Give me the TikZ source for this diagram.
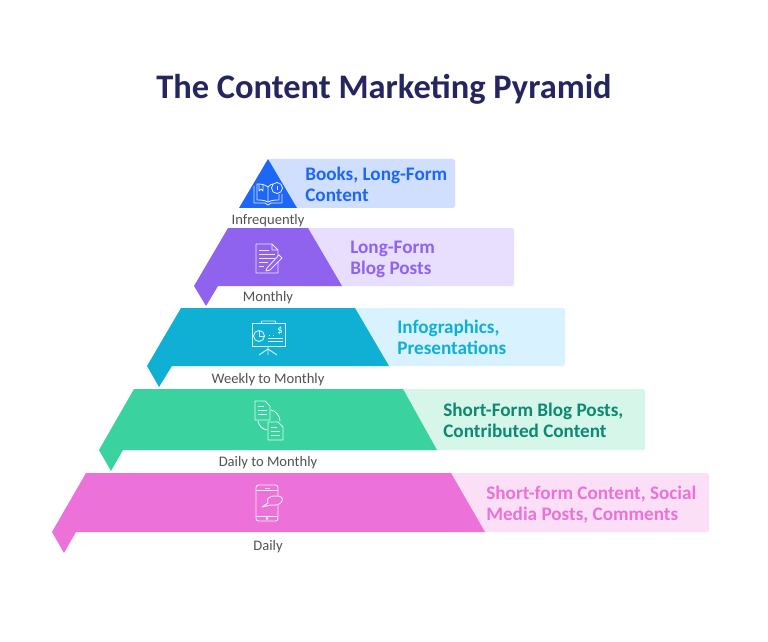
\documentclass[tikz,border=0pt]{standalone}
\usepackage{fontspec}
\setmainfont{Carlito}
\usetikzlibrary{positioning}
\definecolor{ttl}{HTML}{252560}
\definecolor{blueA}{HTML}{1E66F5}
\definecolor{blueB}{HTML}{CFDFFD}
\definecolor{purpA}{HTML}{8F63EE}
\definecolor{purpB}{HTML}{E8DEFE}
\definecolor{cyanA}{HTML}{0FB0D3}
\definecolor{cyanB}{HTML}{D8F2FF}
\definecolor{grnA}{HTML}{3AD3A0}
\definecolor{grnB}{HTML}{D6F6EA}
\definecolor{pnkA}{HTML}{EC71D8}
\definecolor{pnkB}{HTML}{FBDFF6}
\definecolor{grnT}{HTML}{0B8A70}
\begin{document}
\begin{tikzpicture}[x=0.02cm,y=-0.02cm,
  lbl/.style={font=\fontsize{8.3}{10}\selectfont, text=black!68, inner sep=0pt},
  tier/.style={font=\fontsize{10.9}{11.9}\selectfont\bfseries, align=left, anchor=west, inner sep=0pt},
  band/.style={rounded corners=1pt},
  icn/.style={draw=white, draw opacity=0.85, line width=0.5pt, line join=round}
]
\useasboundingbox (0,0) rectangle (768,642);
\fill[white] (0,0) rectangle (768,642);
\node[font=\fontsize{19.6}{24}\selectfont\bfseries, text=ttl, inner sep=0pt] (title) at (384,89) {The Content Marketing Pyramid};
% light bands
\fill[band, blueB] (268,159) rectangle (455,208);
\fill[band, purpB] (300,228) rectangle (514,286);
\fill[band, cyanB] (350,308) rectangle (565,366);
\fill[band, grnB] (398,389) rectangle (645,450);
\fill[band, pnkB] (445,473) rectangle (709,532);
% dark shapes
\fill[blueA] (268,159) -- (297,208) -- (239,208) -- cycle;
\fill[purpA] (228,228) -- (308,228) -- (342,286) -- (218,286) -- (206,306) -- (194,286) -- cycle;
\fill[cyanA] (181,308) -- (355,308) -- (389,366) -- (172,366) -- (159,387) -- (147,366) -- cycle;
\fill[grnA] (134,389) -- (403,389) -- (437,450) -- (123,450) -- (111,471) -- (99,450) -- cycle;
\fill[pnkA] (86,473) -- (451,473) -- (485,532) -- (76,532) -- (64,553) -- (52,532) -- cycle;
% band texts
\node[tier, text=blueA] (books) at (305,184) {Books, Long-Form\\Content};
\node[tier, text=purpA] (blog) at (350,259) {Long-Form\\Blog Posts};
\node[tier, text=cyanA] (info) at (397,337) {Infographics,\\Presentations};
\node[tier, text=grnT] (short) at (443,420) {Short-Form Blog Posts,\\Contributed Content};
\node[tier, text=pnkA] (social) at (486,505) {Short-form Content, Social\\Media Posts, Comments};
% frequency labels
\node[lbl] (freqa) at (268,221) {Infrequently};
\node[lbl] (freqb) at (268,298) {Monthly};
\node[lbl] (freqc) at (268,380) {Weekly to Monthly};
\node[lbl] (freqd) at (268,463) {Daily to Monthly};
\node[lbl] (freqe) at (268,547) {Daily};
% book
\draw[icn] (254,186) -- (254,203) -- (265,203) -- (268,205) -- (271,203) -- (282,203) -- (282,194);
\draw[icn] (268,187) .. controls (264,184) and (260,184) .. (257,184) -- (257,200) .. controls (260,200) and (264,200) .. (268,202) .. controls (272,200) and (276,200) .. (279,200) -- (279,194);
\draw[icn] (268,187) -- (268,202) (268,187) .. controls (270,185) and (271,184) .. (273,184);
\draw[icn] (259,184) -- (259,191) -- (261,189) -- (263,191) -- (263,184);
\draw[icn] (277,188) circle (5.5);
\draw[icn] (277,186) -- (277,190);
% note and pencil
\draw[icn] (256,244) -- (256,273) -- (278,273) -- (278,250) (256,244) -- (272,244) -- (278,250) -- (272,250) -- (272,244);
\draw[icn] (259,250) -- (269,250) (259,254) -- (275,254) (259,258) -- (275,258) (259,262) -- (268,262) (259,266) -- (264,266);
\draw[icn, fill=purpA] (267,268) -- (279,255) -- (282,258) -- (270,270) -- (266,271) -- cycle;
% presentation board
\draw[icn] (252,323) rectangle (285,346);
\draw[icn] (261,323) -- (262,321) -- (275,321) -- (276,323);
\draw[icn] (259,336) circle (5.5);
\draw[icn] (259,336) -- (259,330.5) (259,336) -- (264.5,336);
\draw[icn, dotted] (269,335) -- (277,335);
\draw[icn] (268,338) -- (283,338) (268,341) -- (283,341);
\draw[icn] (268,346) -- (268,349) (268,349) -- (259,355) (268,349) -- (268,355) (268,349) -- (277,355);
\node[font=\fontsize{6}{6}\selectfont, text=white, inner sep=0pt] (dollar) at (280,331) {\$};
% two documents
\draw[icn] (255,401) -- (255,420) -- (270,420) -- (270,406) -- (265,401) -- cycle;
\draw[icn] (268,422) -- (268,440) -- (283,440) -- (283,427) -- (278,422) -- cycle;
\draw[icn] (258,406) -- (264,406) (258,410) -- (267,410) (258,414) -- (267,414) (271,427) -- (277,427) (271,431) -- (280,431) (271,435) -- (280,435);
\draw[icn] (271,410) .. controls (276,411) and (280,416) .. (280,421);
\draw[icn] (258,421) .. controls (259,426) and (262,429) .. (267,430);
% phone and speech bubble
\draw[icn, rounded corners=1.5pt] (256,485) rectangle (278,521);
\draw[icn] (256,490) -- (278,490) (256,516) -- (278,516);
\draw[icn] (265,488) -- (270,488);
\draw[icn] (267,518.5) circle (1);
\draw[icn, fill=pnkA] (262,507) -- (268,503) .. controls (265,497) and (272,496) .. (276,496) .. controls (282,496) and (283,498) .. (282,501) .. controls (281,504) and (276,506) .. (271,505) -- cycle;
\end{tikzpicture}
\end{document}
